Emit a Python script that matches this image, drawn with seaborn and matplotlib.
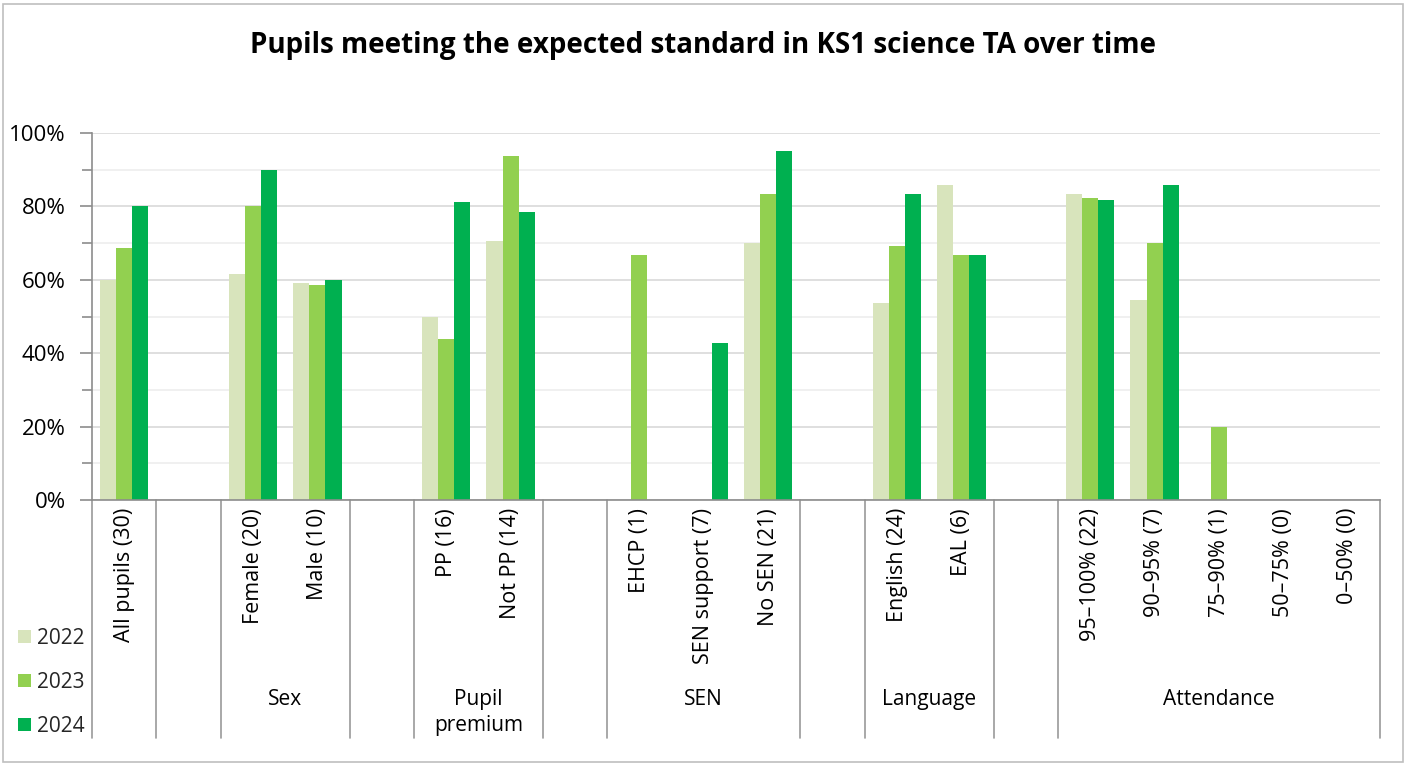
import numpy as np
import pandas as pd
import matplotlib
matplotlib.use("Agg")
import matplotlib.pyplot as plt
import seaborn as sns
from matplotlib.ticker import MultipleLocator, PercentFormatter
from matplotlib.patches import Rectangle, Patch
from matplotlib.lines import Line2D
from matplotlib.transforms import blended_transform_factory

# --- data (percent of pupils) ---
labels = ["All pupils (30)", "", "Female (20)", "Male (10)", "",
          "PP (16)", "Not PP (14)", "", "EHCP (1)", "SEN support (7)",
          "No SEN (21)", "", "English (24)", "EAL (6)", "",
          "95–100% (22)", "90–95% (7)", "75–90% (1)", "50–75% (0)", "0–50% (0)"]
group_names = ["Sex", "Pupil\npremium", "SEN", "Language", "Attendance"]
group_slots = [[2, 3], [5, 6], [8, 9, 10], [12, 13], [15, 16, 17, 18, 19]]
gap_slots = [1, 4, 7, 11, 14]

years = ["2022", "2023", "2024"]
y2022 = [60.0, 0, 61.5, 59.0, 0, 50.0, 70.6, 0, 0, 0, 70.0, 0, 53.6, 85.7, 0, 83.3, 54.5, 0, 0, 0]
y2023 = [68.8, 0, 80.0, 58.7, 0, 43.8, 93.8, 0, 66.7, 0, 83.3, 0, 69.2, 66.7, 0, 82.4, 70.0, 20.0, 0, 0]
y2024 = [80.0, 0, 90.0, 60.0, 0, 81.3, 78.6, 0, 0, 42.9, 95.2, 0, 83.3, 66.7, 0, 81.8, 85.7, 0, 0, 0]
colors = ["#D8E4BC", "#92D050", "#00B050"]

slots = [f"s{i}" for i in range(len(labels))]
df = pd.DataFrame({
    "slot": slots * 3,
    "value": y2022 + y2023 + y2024,
    "year": [y for y in years for _ in slots],
})

sns.set_theme(style="white")
plt.rcParams["font.family"] = ["Open Sans", "DejaVu Sans"]

W, H = 1407, 765
fig = plt.figure(figsize=(W / 100, H / 100), dpi=100)
ax = fig.add_axes([92 / W, 1 - 500 / H, (1380 - 92) / W, (500 - 133) / H])

sns.barplot(data=df, x="slot", y="value", hue="year", order=slots,
            hue_order=years, palette=colors, saturation=1, width=0.75,
            linewidth=0, errorbar=None, ax=ax)

ax.set_xlim(-0.5, len(slots) - 0.5)
ax.set_ylim(0, 100)
ax.yaxis.set_major_locator(MultipleLocator(20))
ax.yaxis.set_minor_locator(MultipleLocator(10))
ax.yaxis.set_major_formatter(PercentFormatter(decimals=0))
ax.grid(axis="y", which="major", color="#D9D9D9", linewidth=1.2)
ax.grid(axis="y", which="minor", color="#EDEDED", linewidth=1.2)
ax.set_axisbelow(True)
ax.tick_params(axis="y", which="major", left=True, length=9, width=1.2,
               color="#8C8C8C", labelsize=16, pad=10, labelcolor="black")
ax.tick_params(axis="y", which="minor", left=True, length=7, width=1.2,
               color="#8C8C8C")
ax.set_xticks([])
ax.set_xlabel("")
ax.set_ylabel("")
for s in ["top", "right"]:
    ax.spines[s].set_visible(False)
for s in ["left", "bottom"]:
    ax.spines[s].set_color("#8C8C8C")
    ax.spines[s].set_linewidth(1.2)

# multi-level category axis drawn below the plot
tr = blended_transform_factory(ax.transData, fig.transFigure)
fy = lambda px: 1 - px / H
for i, lab in enumerate(labels):
    if lab:
        ax.text(i, fy(508), lab, transform=tr, rotation=90, ha="center",
                va="top", fontsize=15.5, color="black")
for name, idx in zip(group_names, group_slots):
    ax.text(np.mean(idx), fy(689), name, transform=tr, ha="center",
            va="top", fontsize=15, color="black", linespacing=1.3)
bounds = {-0.5, len(slots) - 0.5}
for g in gap_slots:
    bounds.update([g - 0.5, g + 0.5])
for b in sorted(bounds):
    ax.add_line(Line2D([b, b], [fy(500), fy(738)], transform=tr,
                       color="#9A9A9A", linewidth=1.2, clip_on=False))

# legend in the lower left corner
ax.get_legend().remove()
handles = [Patch(facecolor=c, edgecolor="none") for c in colors]
fig.legend(handles, years, loc="upper left", bbox_to_anchor=(18 / W, fy(628)),
           frameon=False, fontsize=15, handlelength=0.6, handleheight=0.6,
           handletextpad=0.3, labelspacing=1.1, borderpad=0, borderaxespad=0)

fig.text(0.5, fy(46), "Pupils meeting the expected standard in KS1 science TA over time",
         ha="center", va="center", fontsize=20, fontweight="bold", color="black")

fig.patches.append(Rectangle((3 / W, 3 / H), 1 - 7 / W, 1 - 7 / H,
                             transform=fig.transFigure, fill=False,
                             edgecolor="#BFBFBF", linewidth=1.2))

fig.savefig("out.png", dpi=100)
